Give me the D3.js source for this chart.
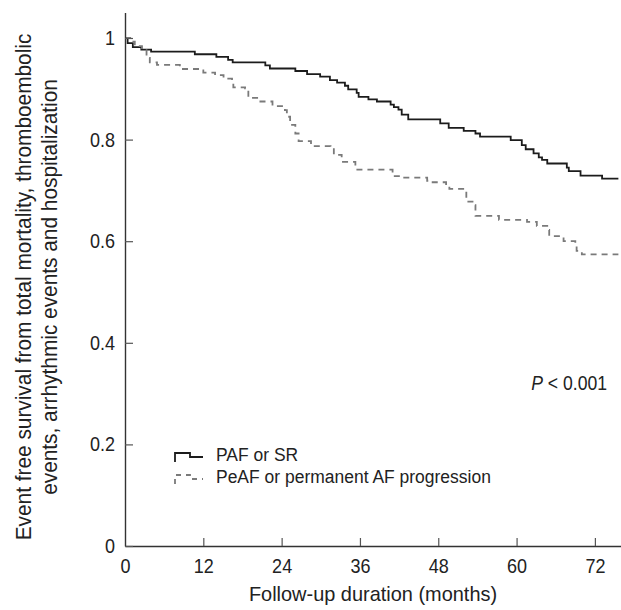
<!DOCTYPE html>
<html>
<head>
<meta charset="utf-8">
<script src="https://cdn.jsdelivr.net/npm/d3@7"></script>
<style>
  body { margin: 0; background: #fff; }
  svg text { font-family: "Liberation Sans", Arial, sans-serif; fill: #222; }
</style>
</head>
<body>
<svg id="chart" width="621" height="610"></svg>
<script>
// KAPLAN-MEIER CURVES, values (months, event free survival)

var pafTime = [0, 0.4, 1.2, 2.5, 4.0, 10.7, 14.0, 15.8, 16.5, 21.5, 22.2, 26.1, 27.9, 29.9, 31.4,
  32.5, 33.7, 34.2, 35.5, 35.8, 37.3, 38.6, 40.7, 41.2, 41.9, 42.4, 43.4, 48.3, 49.6, 51.9,
  53.7, 54.4, 59.1, 60.8, 61.4, 62.6, 63.4, 63.9, 64.7, 67.7, 68.0, 69.8, 73.1, 75.6];
var pafSurv = [1.0, 0.99, 0.982, 0.977, 0.973, 0.968, 0.963, 0.957, 0.952, 0.946, 0.940, 0.935, 0.929, 0.924, 0.917,
  0.912, 0.906, 0.899, 0.892, 0.884, 0.879, 0.875, 0.869, 0.864, 0.859, 0.849, 0.840, 0.832, 0.823, 0.817,
  0.812, 0.806, 0.799, 0.789, 0.781, 0.773, 0.765, 0.760, 0.753, 0.745, 0.738, 0.729, 0.723, 0.723];

var peafTime = [0, 0.8, 1.5, 2.6, 3.3, 3.8, 4.9, 8.4, 11.5, 12.0, 13.8, 15.1, 16.4, 16.6, 18.4,
  18.9, 20.4, 22.6, 24.5, 24.8, 25.3, 26.1, 26.6, 28.5, 31.5, 32.0, 33.2, 35.3, 41.0, 42.4,
  46.3, 46.8, 49.2, 49.7, 52.0, 52.3, 53.5, 53.7, 57.3, 61.6, 63.1, 64.7, 65.0, 67.2, 69.0,
  69.2, 70.0, 75.6];
var peafSurv = [1.0, 0.993, 0.984, 0.976, 0.961, 0.952, 0.947, 0.939, 0.936, 0.932, 0.927, 0.920, 0.917, 0.903, 0.901,
  0.882, 0.875, 0.866, 0.858, 0.845, 0.829, 0.812, 0.797, 0.787, 0.784, 0.770, 0.756, 0.741, 0.728, 0.725,
  0.719, 0.716, 0.710, 0.703, 0.699, 0.678, 0.671, 0.650, 0.642, 0.638, 0.630, 0.622, 0.610, 0.600, 0.594,
  0.581, 0.574, 0.574];

var xTicks = [0, 12, 24, 36, 48, 60, 72];
var yTicks = [0, 0.2, 0.4, 0.6, 0.8, 1];
var seriesNames = ['PAF or SR', 'PeAF or permanent AF progression'];

var svg = d3.select('#chart');
var sx = 0.9; // squeeze text sideways, the original font is a condensed one

var x = d3.scaleLinear().domain([0, 76]).range([125, 621]);
var y = d3.scaleLinear().domain([0, 1.05]).range([546, 12.6]);

// curves
var stepLine = d3.line()
    .x((d) => { return x(d[0]) })
    .y((d) => { return y(d[1]) })
    .curve(d3.curveStepAfter);

var series = [
  { name: seriesNames[0], pts: d3.zip(pafTime, pafSurv), color: '#1c1c1c', dash: null },
  { name: seriesNames[1], pts: d3.zip(peafTime, peafSurv), color: '#7a7a7a', dash: '6,5' }
];

svg.append('g').selectAll('path')
    .data(series)
  .enter().append('path')
    .attr('d', (d) => { return stepLine(d.pts) })
    .attr('fill', 'none')
    .attr('stroke', (d) => { return d.color })
    .attr('stroke-width', 1.8)
    .attr('stroke-dasharray', (d) => { return d.dash });

// axes - ticks point inward
var xAxis = svg.append('g')
    .attr('transform', `translate(0,${y(0)})`)
    .call(d3.axisBottom(x).tickValues(xTicks).tickSizeInner(-8).tickSizeOuter(0).tickPadding(13));

var yAxis = svg.append('g')
    .attr('transform', `translate(${x(0)},0)`)
    .call(d3.axisLeft(y).tickValues(yTicks).tickFormat((d) => { return String(d) })
      .tickSizeInner(-8).tickSizeOuter(0).tickPadding(10));

[xAxis, yAxis].forEach((g) => {
  g.attr('font-family', null).attr('font-size', 20);
  g.select('.domain').attr('stroke', '#333').attr('stroke-width', 1.4);
  g.selectAll('.tick line').attr('stroke', '#555').attr('stroke-width', 1.2);
  g.selectAll('.tick text').attr('fill', '#222').attr('transform', `scale(${sx},1)`);
});
yAxis.selectAll('.tick text').attr('x', -10 / sx);
xAxis.selectAll('.tick').filter((d) => { return d === 0 }).select('line').remove();

// axis titles
svg.append('text')
    .attr('transform', 'translate(373,601) scale(0.95,1)')
    .attr('text-anchor', 'middle')
    .attr('font-size', 21)
    .text('Follow-up duration (months)');

var yTitle = svg.append('text')
    .attr('transform', 'translate(0,287) rotate(-90) scale(0.97,1)')
    .attr('text-anchor', 'middle')
    .attr('font-size', 21.5);
yTitle.append('tspan').attr('x', 0).attr('y', 31).text('Event free survival from total mortality, thromboembolic');
yTitle.append('tspan').attr('x', 0).attr('y', 57).text('events, arrhythmic events and hospitalization');

// p value
var pText = svg.append('text')
    .attr('transform', 'translate(607,390) scale(0.88,1)')
    .attr('text-anchor', 'end')
    .attr('font-size', 20);
pText.append('tspan').attr('font-style', 'italic').text('P');
pText.append('tspan').text(' < 0.001');

// legend, little step glyph + label
var legend = svg.append('g').attr('transform', 'translate(175,0)');
var glyph = [[0, 0], [15, -9], [28, -5]];

var legendItem = legend.selectAll('g')
    .data(series)
  .enter().append('g')
    .attr('transform', (d, i) => { return `translate(0,${462 + i * 22})` });

legendItem.append('path')
    .attr('d', d3.line().curve(d3.curveStepBefore)(glyph))
    .attr('fill', 'none')
    .attr('stroke', (d) => { return d.color })
    .attr('stroke-width', 1.8)
    .attr('stroke-dasharray', (d) => { return d.dash ? '5,5' : null });

legendItem.append('text')
    .attr('transform', 'translate(41,-1) scale(0.92,1)')
    .attr('font-size', 19)
    .text((d) => { return d.name });
</script>
</body>
</html>
